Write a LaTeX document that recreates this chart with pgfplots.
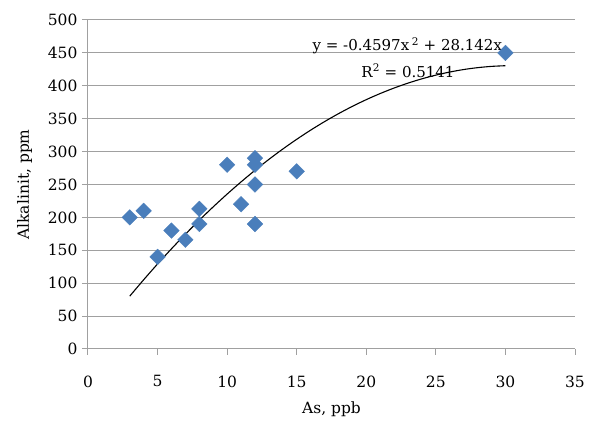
\documentclass[border=0pt]{standalone}
\usepackage{fontspec}
\setmainfont{DejaVu Serif}
\usepackage{pgfplots}
\pgfplotsset{compat=1.18}
\definecolor{ptblue}{HTML}{4A7EBB}
\definecolor{gridgray}{HTML}{A0A0A0}
\begin{document}
\begin{tikzpicture}
\begin{axis}[
  name=ax,
  scale only axis,
  width=487pt, height=329pt,
  xmin=0, xmax=35, ymin=0, ymax=500,
  xtick={0,5,...,35}, ytick={0,50,...,500},
  axis x line*=bottom, axis y line*=left,
  axis line style={gridgray, line width=1pt},
  tick style={gridgray, line width=1pt},
  tick align=outside, major tick length=6pt,
  ymajorgrids, grid style={gridgray, line width=1pt},
  tick label style={font=\fontsize{15.5}{18}\selectfont},
  /pgf/number format/assume math mode=true,
  xticklabel style={yshift=-17pt},
  yticklabel style={xshift=-1pt},
  xlabel={As, ppb}, ylabel={Alkalinit, ppm},
  label style={font=\fontsize{15.5}{18}\selectfont},
  xlabel style={yshift=-8pt},
  ylabel style={yshift=9pt},
  clip=false,
]
\addplot[black, line width=1.1pt, smooth] coordinates {
  (3,80.29) (4,105.21) (5,129.22) (6,152.30) (7,174.47) (8,195.72)
  (9,216.04) (10,235.45) (11,253.94) (12,271.51) (13,288.16) (14,303.89)
  (15,318.70) (16,332.59) (17,345.56) (18,357.61) (19,368.75) (20,378.96)
  (21,388.25) (22,396.63) (23,404.08) (24,410.62) (25,416.24) (26,420.93)
  (27,424.71) (28,427.57) (29,429.51) (30,430.53)
};
\addplot[only marks, mark=square*, mark size=5.5pt,
  mark options={rotate=45, fill=ptblue, draw=ptblue}] coordinates {
  (3,200) (4,210) (5,140) (6,180) (7,166) (8,213) (8,190) (10,280)
  (11,220) (12,290) (12,280) (12,250) (12,190) (15,270) (30,450)
};
\node[font=\fontsize{15}{18}\selectfont] at (axis cs:22.95,461)
  {y = -0.4597x\,\textsuperscript{2} + 28.142x};
\node[font=\fontsize{15}{18}\selectfont] at (axis cs:23.0,423)
  {R\textsuperscript{2} = 0.5141};
\end{axis}
\path[use as bounding box] ([shift={(-88pt,-71pt)}]ax.south west)
  rectangle ([shift={(41pt,20pt)}]ax.north east);
\end{tikzpicture}
\end{document}
